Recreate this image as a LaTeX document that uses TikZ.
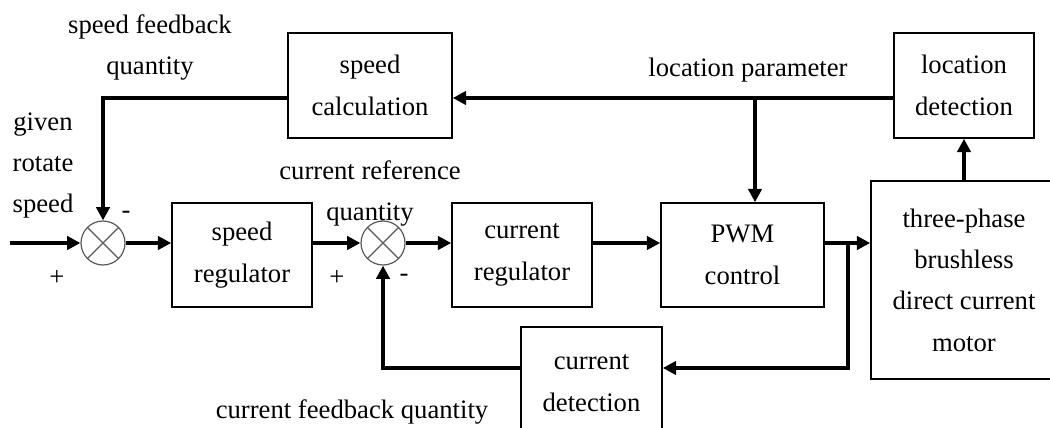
\documentclass[tikz,border=0pt]{standalone}
\usepackage{fontspec}
\setmainfont{Liberation Serif}
\usepackage{tikz}
\usetikzlibrary{arrows.meta,positioning,calc}
\definecolor{SMgray}{RGB}{90,90,90}
\tikzset{
  blk/.style={draw=black,line width=1.2pt,fill=white,align=center,inner sep=2pt,
              font=\fontsize{20}{31}\selectfont,minimum height=78pt},
  sumpt/.style={circle,draw=SMgray,line width=0.9pt,minimum size=33pt,inner sep=0pt,
                path picture={\draw[SMgray,line width=0.9pt]
                  (path picture bounding box.north west)--(path picture bounding box.south east)
                  (path picture bounding box.south west)--(path picture bounding box.north east);}},
  fl/.style={-{Triangle[length=10pt,width=10pt]},line width=2.6pt,draw=black},
  note/.style={font=\fontsize{20}{31}\selectfont,align=center,inner sep=0pt}
}
\begin{document}
\begin{tikzpicture}[x=0.75pt,y=-0.75pt]
  \path[use as bounding box,fill=white] (0,0) rectangle (1050,428);
  % blocks
  \node[blk,minimum width=123pt,minimum height=78.75pt] (spdcalc) at (370,85.5) {speed\\calculation};
  \node[blk,minimum width=105pt,minimum height=78.75pt] (locdet) at (964,85.5) {location\\detection};
  \node[blk,minimum width=105pt] (spdreg) at (242,255) {speed\\regulator};
  \node[blk,minimum width=105pt] (curreg) at (522,255) {current\\regulator};
  \node[blk,minimum width=122.25pt] (pwm) at (742.5,255) {PWM\\control};
  \node[blk,minimum width=139.5pt,minimum height=148.5pt] (motor) at (964,280) {three-phase\\brushless\\direct current\\motor};
  \node[blk,minimum width=105.75pt,minimum height=84pt] (curdet) at (591.5,383) {current\\detection};
  \node[sumpt] (sum1) at (103,243) {};
  \node[sumpt] (sum2) at (383,243) {};
  % signal rows
  \coordinate (in) at (10,243);
  \coordinate (mainrow) at (0,243);
  \coordinate (toprow) at (0,98);
  \coordinate (botrow) at (0,368);
  \coordinate (tap1) at (755,98);
  \coordinate (tap2) at (848,243);
  % connectors
  \draw[fl] (in) -- (sum1);
  \draw[fl] (sum1) -- (sum1 -| spdreg.west);
  \draw[fl] (sum2 -| spdreg.east) -- (sum2);
  \draw[fl] (sum2) -- (sum2 -| curreg.west);
  \draw[fl] (curreg.east |- mainrow) -- (pwm.west |- mainrow);
  \draw[fl] (pwm.east |- mainrow) -- (motor.west |- mainrow);
  \draw[fl] (motor.north) -- (locdet.south);
  \draw[fl] (locdet.west |- toprow) -- (spdcalc.east |- toprow);
  \draw[fl] (tap1) -- (tap1 |- pwm.north);
  \draw[fl] (spdcalc.west |- toprow) -| (sum1.north);
  \draw[fl] (tap2) |- (curdet.east |- botrow);
  \draw[fl] (curdet.west |- botrow) -| (sum2.south);
  % labels
  \node[note] (lspdfb) at (150,47.5) {speed feedback\\quantity};
  \node[note] (lgiven) at (43,165.5) {given\\rotate\\speed};
  \node[note] (lcurref) at (370,193.5) {current reference\\quantity};
  \node[note] (llocpar) at (748,70) {location parameter};
  \node[note] (lcurfb) at (352,412) {current feedback quantity};
  \node[note] (lm1) at (126,215) {-};
  \node[note] (lp1) at (57,278) {+};
  \node[note] (lp2) at (337,278) {+};
  \node[note] (lm2) at (404,278) {-};
\end{tikzpicture}
\end{document}
